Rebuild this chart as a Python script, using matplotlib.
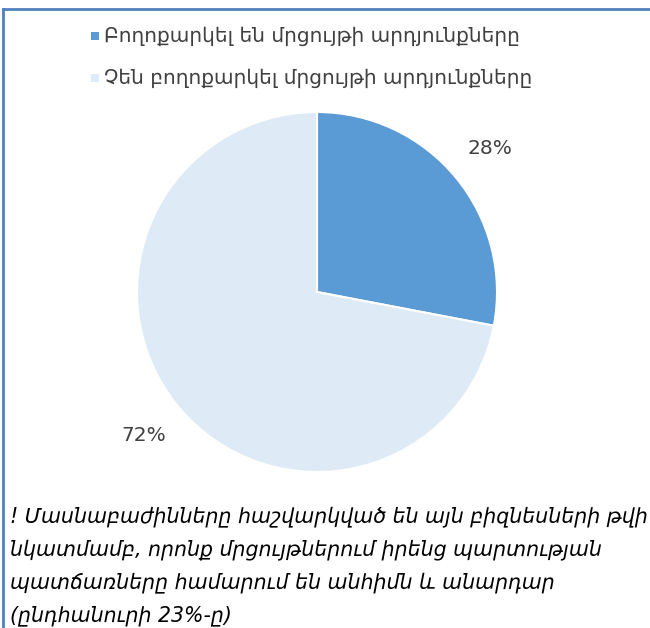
import matplotlib
matplotlib.use("Agg")
import matplotlib.pyplot as plt
from matplotlib.patches import Rectangle
from matplotlib.lines import Line2D

# data
labels = ["Բողոքարկել են մրցույթի արդյունքները",
          "Չեն բողոքարկել մրցույթի արդյունքները"]
shares = [28, 72]
colors = ["#5b9bd5", "#deebf7"]
note = ("! Մասնաբաժինները հաշվարկված են այն բիզնեսների թվի\n"
        "նկատմամբ, որոնք մրցույթներում իրենց պարտության\n"
        "պատճառները համարում են անհիմն և անարդար\n"
        "(ընդհանուրի 23%-ը)")

plt.rcParams['font.family'] = ['DejaVu Sans']

W, H = 650, 628
fig = plt.figure(figsize=(W / 100, H / 100), dpi=100)

# pie placed by pixel centre / radius
cx, cy, r = 317, 292, 180
ax = fig.add_axes([(cx - r) / W, (H - cy - r) / H, 2 * r / W, 2 * r / H])
wedges, texts, autotexts = ax.pie(
    shares, colors=colors, startangle=90, counterclock=False,
    autopct='%d%%', pctdistance=1.25,
    wedgeprops=dict(edgecolor='white', linewidth=1.5),
    textprops=dict(color='#404040', fontsize=14.5))
ax.set_xlim(-1, 1)
ax.set_ylim(-1, 1)
ax.set_aspect('equal')
ax.axis('off')

# legend, drawn as square markers + text
for i, lab in enumerate(labels):
    y = 1 - (36 + i * 42) / H
    fig.add_artist(Rectangle((91 / W, y - 4 / H), 8 / W, 8 / H,
                             transform=fig.transFigure, facecolor=colors[i],
                             edgecolor='none'))
    fig.text(104 / W, y, lab, fontsize=14.5, color='#404040', va='center')

# footnote
fig.text(10 / W, 1 - 506 / H, note, fontsize=14.8, style='italic',
         color='black', va='top', linespacing=1.75)

# frame lines (top and left)
fig.add_artist(Line2D([3 / W, 1], [1 - 9 / H, 1 - 9 / H],
                      transform=fig.transFigure, color='#4f81bd', lw=2))
fig.add_artist(Line2D([3 / W, 3 / W], [0, 1 - 9 / H],
                      transform=fig.transFigure, color='#4f81bd', lw=2))

fig.savefig("out.png", dpi=100)
